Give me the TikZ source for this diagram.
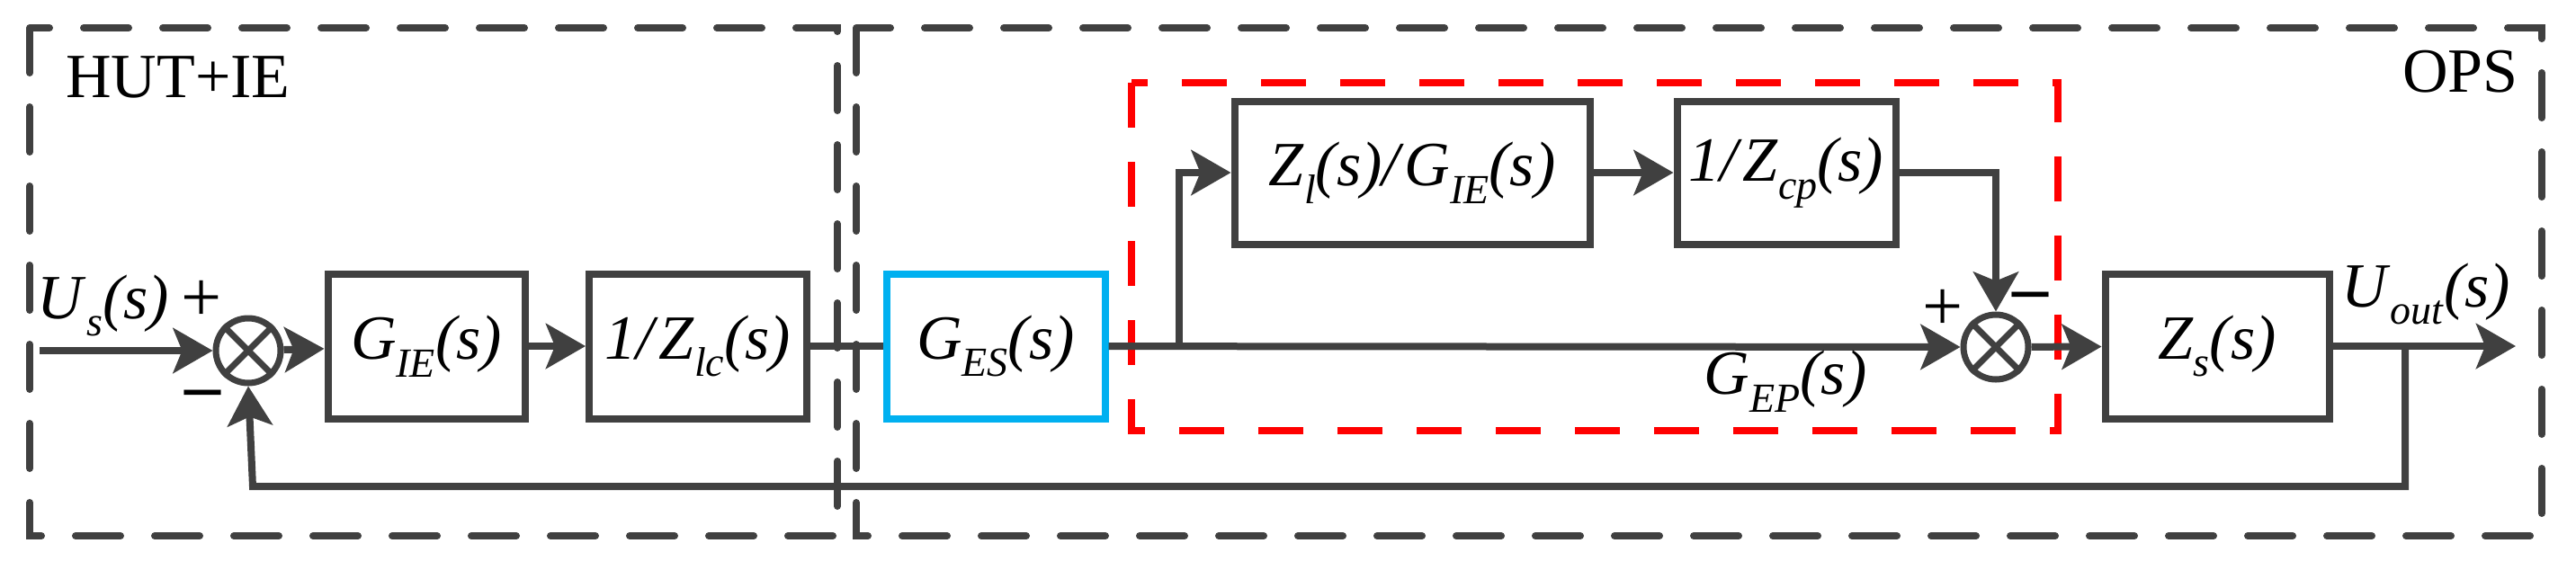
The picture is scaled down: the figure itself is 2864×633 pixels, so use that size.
\documentclass[tikz,border=0pt]{standalone}
\usepackage{fontspec}
\setmainfont{Liberation Serif}
\usetikzlibrary{arrows.meta}
\definecolor{dg}{HTML}{404040}
\definecolor{cy}{HTML}{00B0F0}
\newcommand\mysb[1]{\raisebox{-0.28em}{\fontsize{46}{50}\selectfont\textit{#1}}}
\newcommand\myf[3]{\textit{#1}\mysb{#2}\textit{(s)}#3}
\tikzset{
 blk/.style={draw=dg,line width=8pt,minimum height=161pt,inner sep=0pt,font=\fontsize{70}{80}\selectfont},
 sum/.style={draw=dg,circle,line width=7pt,minimum size=72pt,inner sep=0pt},
 ln/.style={draw=dg,line width=8pt},
 ar/.style={ln,-{Stealth[length=44pt,width=50pt,inset=10pt]}},
 dsh/.style={draw=dg,line width=8pt,dash pattern=on 50pt off 38pt,line cap=round},
 lbl/.style={font=\fontsize{70}{80}\selectfont,inner sep=0pt},
 sgn/.style={font=\fontsize{80}{80}\selectfont,inner sep=0pt}
}
\begin{document}
\begin{tikzpicture}[x=1pt,y=-1pt]
\useasboundingbox (0,0) rectangle (2864,633);
\draw[dsh] (33,31) rectangle (931,596);
\draw[dsh] (952,31) rectangle (2826,596);
\draw[draw=red,line width=8pt,dash pattern=on 50pt off 38pt] (1258,92) rectangle (2288,479);
\node[lbl,anchor=west] (hut) at (73,86) {HUT+IE};
\node[lbl,anchor=east] (ops) at (2800,80) {OPS};
\node[blk,minimum width=219pt] (gie) at (474,385) {\myf{G}{IE}{}};
\node[blk,minimum width=242pt] (zlc) at (776,385) {\textit{1/}\myf{Z}{lc}{}};
\node[blk,draw=cy,minimum width=243pt] (ges) at (1107,385) {\myf{G}{ES}{}};
\node[blk,minimum width=395pt,minimum height=159pt] (zl) at (1570,192) {\myf{Z}{l}{\textit{/}}\myf{G}{IE}{}};
\node[blk,minimum width=243pt,minimum height=159pt] (zcp) at (1986,192) {\textit{1/}\myf{Z}{cp}{}};
\node[blk,minimum width=249pt] (zs) at (2465,385) {\myf{Z}{s}{}};
\node[sum] (s1) at (276,390) {};
\draw[dg,line width=7pt] (s1.north east) -- (s1.south west) (s1.north west) -- (s1.south east);
\node[sum] (s2) at (2219,386) {};
\draw[dg,line width=7pt] (s2.north east) -- (s2.south west) (s2.north west) -- (s2.south east);
\coordinate (in) at (44,390);
\coordinate (out) at (2797,385);
\coordinate (br) at (1311,385);
\coordinate (fb) at (2674,385);
\draw[ar] (in) -- (s1);
\draw[ar] (s1) -- (gie);
\draw[ar] (gie) -- (zlc);
\draw[ln] (zlc) -- (ges);
\draw[ar] (ges) -- (s2);
\draw[ar] (br) |- (zl.west);
\draw[ar] (zl) -- (zcp);
\draw[ar] (zcp.east) -| (s2.north);
\draw[ar] (s2) -- (zs);
\draw[ar] (zs) -- (out);
\draw[ar] (fb) |- (281,541) -- (s1.south);
\node[lbl] (us) at (115,340) {\myf{U}{s}{}};
\node[sgn] (p1) at (224,335) {+};
\node[sgn] (m1) at (226,445) {\textbf{–}};
\node[sgn] (p2) at (2160,345) {+};
\node[sgn] (m2) at (2258,336) {\textbf{–}};
\node[lbl] (uo) at (2697,327) {\myf{U}{out}{}};
\node[lbl] (gep) at (1985,424) {\myf{G}{EP}{}};
\end{tikzpicture}
\end{document}
